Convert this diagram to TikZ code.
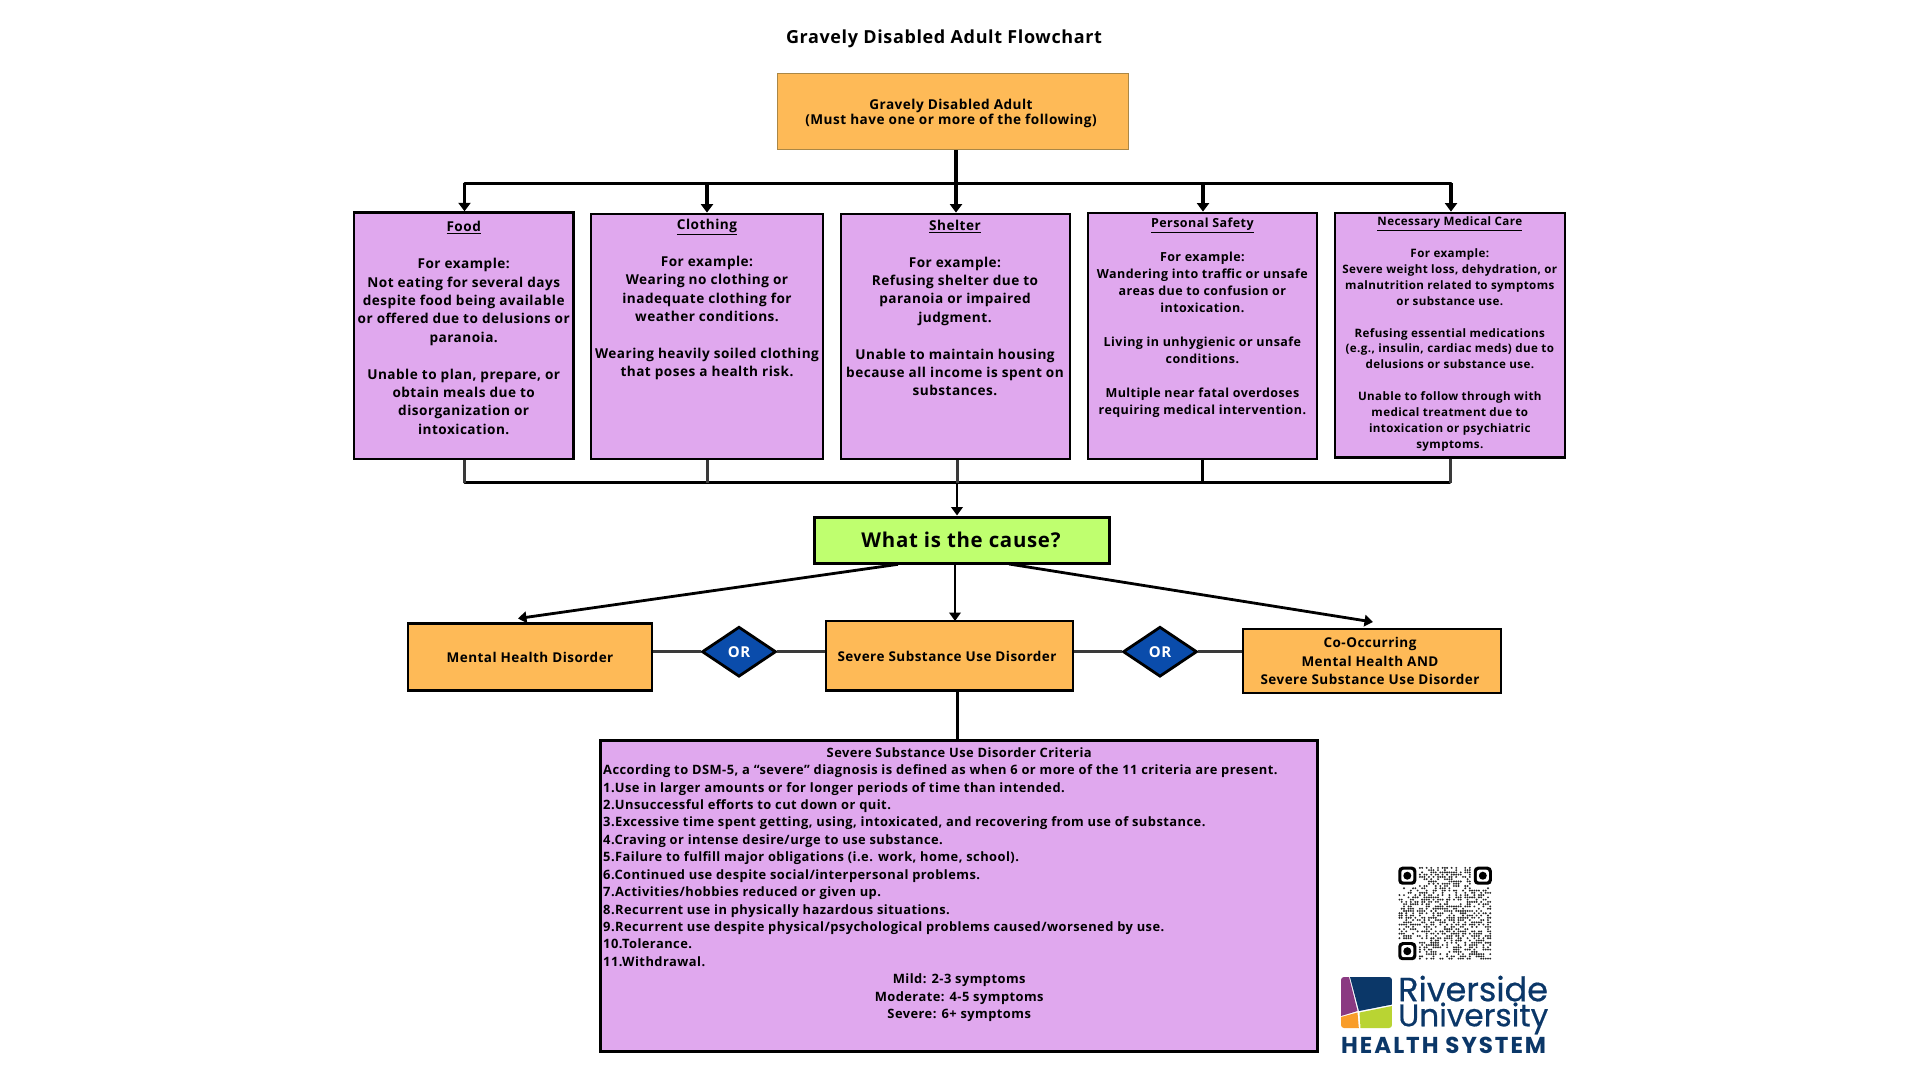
\documentclass[tikz,border=0pt]{standalone}
\usepackage{fontspec}
\usetikzlibrary{arrows.meta,shapes.geometric}
\setmainfont[LetterSpace=3.5]{Open Sans}
\newfontfamily\logofont[FakeBold=0.5]{Poppins}
\newfontfamily\logoboldfont[LetterSpace=8.5]{Poppins}
\definecolor{orangebox}{HTML}{FEBA57}
\definecolor{purplebox}{HTML}{E0A8EE}
\definecolor{greenbox}{HTML}{BFFF6F}
\definecolor{bluedia}{HTML}{0A4CAB}
\definecolor{logonavy}{HTML}{0B3768}
\definecolor{logopurple}{HTML}{8A3A82}
\definecolor{logoorange}{HTML}{F99D2A}
\definecolor{logogreen}{HTML}{B9D433}
\definecolor{wiregrey}{HTML}{3A3A3A}
\tikzset{
  x=1pt,y=-1pt,
  card/.style={draw=black,line width=2.8pt,fill=purplebox,inner sep=0pt,rectangle},
  causebox/.style={draw=black,line width=2.6pt,fill=orangebox,inner sep=0pt,rectangle},
  txt/.style={inner sep=0pt,align=center,font=\bfseries},
  wire/.style={draw=black,line width=3pt},
  thinwire/.style={draw=wiregrey,line width=3pt},
  arrowwire/.style={draw=black,line width=3.8pt,-{Triangle[width=12pt,length=8.5pt]}},
  arrowthin/.style={draw=black,line width=2.8pt,-{Triangle[width=11.5pt,length=8.5pt]}},
  logotxt/.style={inner sep=0pt,text=logonavy},
  ordia/.style={diamond,aspect=1.48,draw=black,line width=2.8pt,fill=bluedia,text=white,inner sep=0pt,minimum width=74pt,minimum height=50pt,font=\bfseries\fontsize{15}{18}\selectfont},
}
% box given by left, top, right, bottom
\newcommand{\bx}[6]{\node[#2,minimum width=\dimexpr#5pt-#3pt\relax,minimum height=\dimexpr#6pt-#4pt\relax] (#1) at ({(#3+#5)/2},{(#4+#6)/2}) {};}
\newcommand{\fsz}[2]{\fontsize{#1}{#2}\selectfont}
\newcommand{\midline}[1]{\makebox[712pt][c]{#1}}
\begin{document}
\begin{tikzpicture}
\useasboundingbox (0,0) rectangle (1920,1080);
\fill[white] (0,0) rectangle (1920,1080);

\node[txt,font=\bfseries\fsz{18}{21}] (title) at (944,38.5) {Gravely Disabled Adult Flowchart};

% boxes
\bx{top}{draw={rgb,255:red,170;green,135;blue,70},line width=1pt,fill=orangebox,inner sep=0pt,rectangle}{777}{73.7}{1128}{149.7}
\bx{food}{card}{354}{212.7}{573.5}{459}
\bx{cloth}{card}{591}{214}{823}{459}
\bx{shelter}{card}{841}{214}{1070}{459}
\bx{safety}{card}{1088}{213}{1317}{459}
\bx{medical}{card}{1335}{213}{1565}{457.7}
\bx{cause}{draw=black,line width=3pt,fill=greenbox,inner sep=0pt,rectangle}{814}{517}{1109}{563}
\bx{mhd}{causebox}{408}{623.7}{652}{690.7}
\bx{ssud}{causebox}{826}{621}{1073}{690.7}
\bx{cooc}{causebox}{1243}{629}{1501}{693}
\bx{crit}{draw=black,line width=3pt,fill=purplebox,inner sep=0pt,rectangle}{600}{740}{1317.6}{1051}

\node[ordia] (or1) at (739,651.7) {OR};
\node[ordia] (or2) at (1160,651.7) {OR};

% upper bus
\coordinate (b1) at (464.5,183.3);
\coordinate (b2) at (707,183.3);
\coordinate (b3) at (956,183.3);
\coordinate (b4) at (1203,183.3);
\coordinate (b5) at (1451,183.3);
\draw[wire,line cap=round] (b1) -- (b5);
\draw[wire,line width=3.4pt] (top.south -| b3) -- (b3);
\draw[arrowwire] (b1) -- (b1 |- food.north);
\draw[arrowwire] (b2) -- (b2 |- cloth.north);
\draw[arrowwire] (b3) -- (b3 |- shelter.north);
\draw[arrowwire] (b4) -- (b4 |- safety.north);
\draw[arrowwire] (b5) -- (b5 |- medical.north);

% lower bus
\coordinate (c1) at (464.5,482.7);
\coordinate (c2) at (707,482.7);
\coordinate (c3) at (957,482.7);
\coordinate (c4) at (1202,482.7);
\coordinate (c5) at (1450,482.7);
\draw[wire,line width=2.8pt,line cap=round] (c1) -- (c5);
\draw[thinwire] (c1) -- (c1 |- food.south);
\draw[thinwire] (c2) -- (c2 |- cloth.south);
\draw[thinwire] (c3) -- (c3 |- shelter.south);
\draw[wire] (c4) -- (c4 |- safety.south);
\draw[thinwire] (c5) -- (c5 |- medical.south);
\draw[arrowthin] (c3) -- (c3 |- cause.north);

% cause arrows
\coordinate (cl) at (898,564.3);
\coordinate (cc) at (955,564);
\coordinate (cr) at (1009,564);
\coordinate (tl) at (518,618.5);
\coordinate (tc) at (955,621);
\coordinate (tr) at (1373,622);
\draw[arrowthin] (cl) -- (tl);
\draw[arrowthin] (cc) -- (tc);
\draw[arrowthin] (cr) -- (tr);

% OR links
\draw[thinwire] (mhd.east |- or1.west) -- (or1.west);
\draw[thinwire] (or1.east) -- (ssud.west |- or1.east);
\draw[thinwire] (ssud.east |- or2.west) -- (or2.west);
\draw[thinwire] (or2.east) -- (cooc.west |- or2.east);
\coordinate (sd) at (957,690.7);
\draw[wire] (sd) -- (sd |- crit.north);

% texts
\node[txt,font=\bfseries\fsz{13.6}{15}] (toptxt) at (951,113) {Gravely Disabled Adult\\(Must have one or more of the following)};

\node[txt,font=\bfseries\fsz{13.6}{18.4}] (foodtxt) at (463.7,328) {\underline{Food}\\~\\For example:\\Not eating for several days\\despite food being available\\or offered due to delusions or\\paranoia.\\~\\Unable to plan, prepare, or\\obtain meals due to\\disorganization or\\intoxication.};

\node[txt,font=\bfseries\fsz{13.6}{18.4}] (clothtxt) at (707,299.5) {\underline{Clothing}\\~\\For example:\\Wearing no clothing or\\inadequate clothing for\\weather conditions.\\~\\Wearing heavily soiled clothing\\that poses a health risk.};

\node[txt,font=\bfseries\fsz{13.6}{18.4}] (sheltertxt) at (955,308) {\underline{Shelter}\\~\\For example:\\Refusing shelter due to\\paranoia or impaired\\judgment.\\~\\Unable to maintain housing\\because all income is spent on\\substances.};

\node[txt,font=\bfseries\fsz{12.5}{17}] (safetytxt) at (1202.4,318) {\underline{Personal Safety}\\~\\For example:\\Wandering into traffic or unsafe\\areas due to confusion or\\intoxication.\\~\\Living in unhygienic or unsafe\\conditions.\\~\\Multiple near fatal overdoses\\requiring medical intervention.};

\node[txt,font=\bfseries\fsz{11.6}{15.9}] (medicaltxt) at (1449.8,334) {\underline{Necessary Medical Care}\\~\\For example:\\Severe weight loss, dehydration, or\\malnutrition related to symptoms\\or substance use.\\~\\Refusing essential medications\\(e.g., insulin, cardiac meds) due to\\delusions or substance use.\\~\\Unable to follow through with\\medical treatment due to\\intoxication or psychiatric\\symptoms.};

\node[txt,font=\bfseries\fsz{20.4}{25}] (causetxt) at (961,540) {What is the cause?};
\node[txt,font=\bfseries\fsz{13.5}{16}] (mhdtxt) at (530,657.5) {Mental Health Disorder};
\node[txt,font=\bfseries\fsz{13.5}{16}] (ssudtxt) at (947,656.7) {Severe Substance Use Disorder};
\node[txt,font=\bfseries\fsz{13.5}{18.3}] (cooctxt) at (1370,661) {Co-Occurring\\Mental Health AND\\Severe Substance Use Disorder};

\node[txt,align=left,anchor=west,font=\bfseries\fsz{12.9}{17.43}] (critbody) at (603,884.5) {\midline{Severe Substance Use Disorder Criteria}\\
According to DSM-5, a “severe” diagnosis is defined as when 6 or more of the 11 criteria are present.\\
1.Use in larger amounts or for longer periods of time than intended.\\
2.Unsuccessful efforts to cut down or quit.\\
3.Excessive time spent getting, using, intoxicated, and recovering from use of substance.\\
4.Craving or intense desire/urge to use substance.\\
5.Failure to fulfill major obligations (i.e. work, home, school).\\
6.Continued use despite social/interpersonal problems.\\
7.Activities/hobbies reduced or given up.\\
8.Recurrent use in physically hazardous situations.\\
9.Recurrent use despite physical/psychological problems caused/worsened by use.\\
10.Tolerance.\\
11.Withdrawal.\\
\midline{Mild: 2-3 symptoms}\\
\midline{Moderate: 4-5 symptoms}\\
\midline{Severe: 6+ symptoms}};

% QR code
\pgfmathsetseed{4217}
\begin{scope}[shift={(1398.3,866.7)}]
  \foreach \i in {0,...,40}{
    \foreach \j in {0,...,40}{
      \pgfmathsetmacro{\skip}{((\i<9 && \j<9)||(\i>31 && \j<9)||(\i<9 && \j>31))?1:0}
      \pgfmathsetmacro{\r}{rnd}
      \ifnum\skip=0\relax
        \pgfmathparse{\r<0.5?1:0}
        \ifnum\pgfmathresult=1\relax
          \fill[black!85] ({(\i+0.5)*2.27},{(\j+0.5)*2.27}) circle (1.05pt);
        \fi
      \fi
    }
  }
  \foreach \fx/\fy in {0/0,75.5/0,0/75.5}{
    \begin{scope}[shift={(\fx,\fy)}]
      \fill[black,rounded corners=4pt] (0,0) rectangle (18,18);
      \fill[white,rounded corners=2.5pt] (3,3) rectangle (15,15);
      \fill[black] (9,9) circle (4pt);
    \end{scope}
  }
\end{scope}

% logo
\begin{scope}
  \clip[rounded corners=3pt] (1341,977) rectangle (1392,1028);
  \fill[logopurple] (1341,977) -- (1349,977) -- (1357.5,1011) -- (1341,1016) -- cycle;
  \fill[logonavy] (1350,977) -- (1392,977) -- (1392,1004.5) -- (1359,1011) -- cycle;
  \fill[logogreen] (1359.5,1012.5) -- (1392,1006) -- (1392,1028) -- (1360.5,1028) -- cycle;
  \fill[logoorange] (1341,1017) -- (1357.5,1012.5) -- (1358.8,1028) -- (1341,1028) -- cycle;
\end{scope}
\node[logotxt,align=left,anchor=west,font=\logofont\fsz{33.5}{23}] (logo1) at (1398,1005) {Riverside\\\fsz{31.2}{23}University};
\node[logotxt,anchor=base west,font=\logoboldfont\bfseries\fsz{23}{23}] (logo3) at (1341,1053) {HEALTH SYSTEM};
\end{tikzpicture}
\end{document}
